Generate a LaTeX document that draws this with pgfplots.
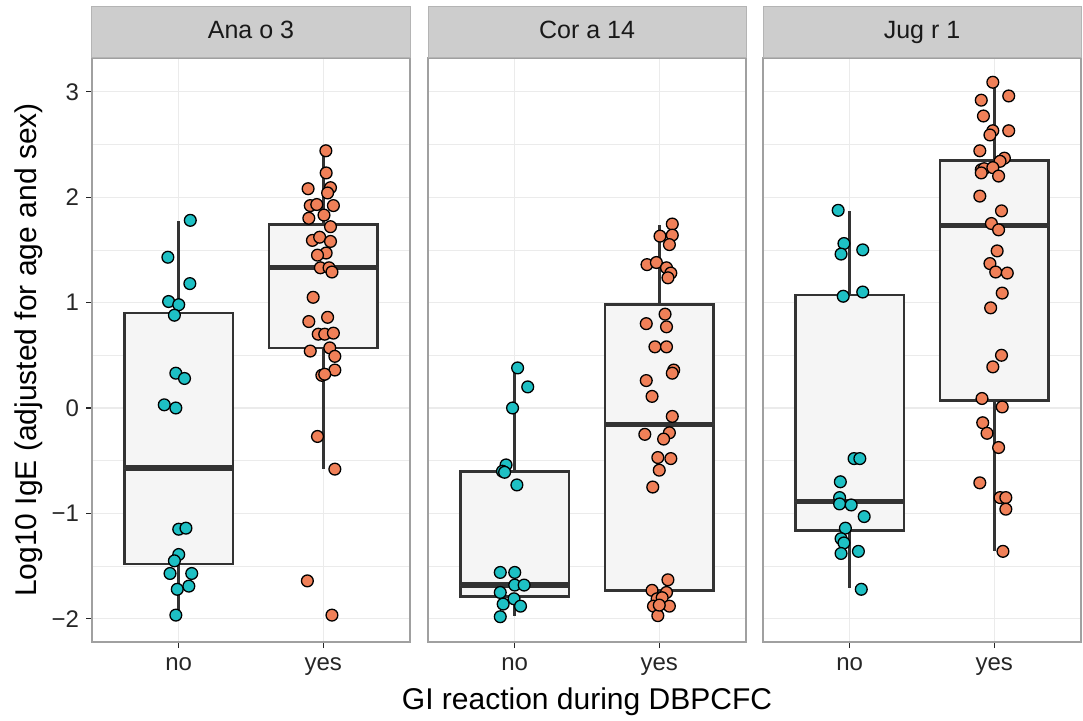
\documentclass[border=0pt]{standalone}
\usepackage{fontspec}
\setmainfont{Liberation Sans}
\usepackage{pgfplots}
\pgfplotsset{compat=1.18}
\usepgfplotslibrary{statistics}

\definecolor{tealpt}{RGB}{30,192,196}
\definecolor{orangept}{RGB}{240,128,88}
\definecolor{gridgrey}{RGB}{235,235,235}
\definecolor{bordergrey}{RGB}{160,160,160}
\definecolor{stripgrey}{RGB}{205,205,205}
\definecolor{stripborder}{RGB}{180,180,180}
\definecolor{boxfill}{RGB}{245,245,245}
\definecolor{boxline}{RGB}{51,51,51}
\definecolor{labgrey}{RGB}{38,38,38}

\pgfplotsset{
  boxplot/draw direction=y,
  boxplot/whisker extend=0,
  boxplot/box extend=0.75,
  boxplot/every median/.style={line width=2.6pt},
  facet/.style={
    scale only axis, width=159pt, height=292pt,
    anchor=south west, clip=false,
    xmin=0.4, xmax=2.6, ymin=-2.22, ymax=3.32,
    xtick={1,2}, xticklabels={no,yes},
    ytick={-2,-1,0,1,2,3},
    minor ytick={-1.5,-0.5,0.5,1.5,2.5},
    grid=both,
    major grid style={gridgrey, line width=0.6pt},
    minor grid style={gridgrey, line width=0.35pt},
    axis line style={bordergrey, line width=0.9pt},
    tick align=outside, major tick length=3pt, minor tick length=0pt,
    tick style={labgrey, line width=0.6pt},
    xtick pos=bottom, ytick pos=left,
    tick label style={font=\fontsize{12}{14}\selectfont, text=labgrey},
    xticklabel style={yshift=-1.5pt},
  },
  box/.style={draw=boxline, fill=boxfill, line width=1.3pt},
  nopts/.style={only marks, mark=*, mark size=2.95pt,
    mark options={fill=tealpt, draw=black, line width=0.65pt}},
  yespts/.style={only marks, mark=*, mark size=2.95pt,
    mark options={fill=orangept, draw=black, line width=0.65pt}},
}
\newcommand{\strip}[1]{%
  \node[fill=stripgrey, draw=stripborder, line width=0.5pt, anchor=south,
    minimum width=159pt, minimum height=25.5pt, inner sep=0pt,
    text height=9pt, text depth=2.5pt, text=black!90,
    font=\fontsize{12.5}{14}\selectfont] at (rel axis cs:0.5,1) {#1};}

\begin{document}
\begin{tikzpicture}
\path[use as bounding box] (0,0) rectangle (541.5pt,360pt);

% Ana o 3
\begin{axis}[facet, at={(46pt,39pt)},
  yticklabels={−2,−1,0,1,2,3},
  ylabel={Log10 IgE (adjusted for age and sex)},
  ylabel style={at={(axis description cs:-0.173,0.5)}, anchor=base,
    font=\fontsize{15}{18}\selectfont, text=black}]
\addplot[box, boxplot prepared={draw position=1, lower whisker=-1.965,
  lower quartile=-1.48, median=-0.57, upper quartile=0.90, upper whisker=1.77}]
  coordinates {};
\addplot[box, boxplot prepared={draw position=2, lower whisker=-0.58,
  lower quartile=0.57, median=1.33, upper quartile=1.74, upper whisker=2.44}]
  coordinates {};
\addplot[nopts] coordinates {
  (1.08,1.78) (0.925,1.43) (1.077,1.18) (0.93,1.01) (1.0,0.98) (0.97,0.88)
  (0.98,0.33) (1.04,0.28) (0.90,0.03) (0.98,0.00) (1.0,-1.15) (1.05,-1.14)
  (1.0,-1.39) (0.97,-1.45) (0.94,-1.57) (1.09,-1.57) (0.99,-1.72) (1.07,-1.69)
  (0.98,-1.965)};
\addplot[yespts] coordinates {
  (2.018,2.44) (2.02,2.23) (1.895,2.08) (2.05,2.09) (2.03,2.04) (1.91,1.92)
  (1.955,1.93) (2.07,1.92) (1.90,1.80) (2.005,1.83) (2.05,1.72) (1.925,1.59)
  (1.975,1.62) (2.05,1.58) (2.02,1.47) (1.96,1.45) (1.98,1.33) (2.04,1.33)
  (2.06,1.29) (1.93,1.05) (2.03,0.86) (1.90,0.82) (1.965,0.70) (2.01,0.70)
  (2.07,0.71) (2.045,0.57) (1.91,0.54) (2.08,0.49) (2.08,0.36) (1.99,0.31)
  (2.01,0.32) (1.96,-0.27) (2.08,-0.58) (1.89,-1.64) (2.06,-1.965)};
\strip{Ana o 3}
\end{axis}

% Cor a 14
\begin{axis}[facet, at={(214pt,39pt)},
  yticklabels={}, ytick style={draw=none},
  xlabel={GI reaction during DBPCFC},
  xlabel style={at={(axis description cs:0.5,-0.1164)}, anchor=base,
    font=\fontsize{15}{18}\selectfont, text=black}]
\addplot[box, boxplot prepared={draw position=1, lower whisker=-1.97,
  lower quartile=-1.79, median=-1.68, upper quartile=-0.60, upper whisker=0.38}]
  coordinates {};
\addplot[box, boxplot prepared={draw position=2, lower whisker=-1.97,
  lower quartile=-1.73, median=-0.16, upper quartile=0.98, upper whisker=1.74}]
  coordinates {};
\addplot[nopts] coordinates {
  (1.02,0.38) (1.09,0.20) (0.985,0.00) (0.94,-0.54) (0.915,-0.60) (0.93,-0.61)
  (1.015,-0.73) (0.90,-1.56) (1.0,-1.56) (1.0,-1.68) (1.065,-1.68) (0.90,-1.75)
  (0.92,-1.86) (0.995,-1.81) (1.04,-1.88) (0.90,-1.98)};
\addplot[yespts] coordinates {
  (2.09,1.745) (2.005,1.63) (2.09,1.64) (2.07,1.55) (1.915,1.36) (1.98,1.38)
  (2.05,1.33) (2.08,1.28) (2.06,1.235) (2.04,0.89) (1.91,0.80) (2.05,0.77)
  (1.97,0.58) (2.05,0.58) (2.10,0.36) (2.09,0.33) (1.91,0.26) (1.95,0.11)
  (2.09,-0.08) (2.07,-0.235) (1.90,-0.25) (2.03,-0.295) (1.99,-0.47) (2.08,-0.48)
  (2.0,-0.59) (1.955,-0.75) (2.06,-1.63) (1.95,-1.73) (2.05,-1.75) (1.985,-1.81)
  (2.02,-1.80) (1.96,-1.88) (2.07,-1.88) (1.99,-1.97) (2.0,-1.87)};
\strip{Cor a 14}
\end{axis}

% Jug r 1
\begin{axis}[facet, at={(381.5pt,39pt)},
  yticklabels={}, ytick style={draw=none}]
\addplot[box, boxplot prepared={draw position=1, lower whisker=-1.71,
  lower quartile=-1.16, median=-0.885, upper quartile=1.07, upper whisker=1.87}]
  coordinates {};
\addplot[box, boxplot prepared={draw position=2, lower whisker=-1.36,
  lower quartile=0.07, median=1.73, upper quartile=2.35, upper whisker=3.08}]
  coordinates {};
\addplot[nopts] coordinates {
  (0.92,1.875) (0.96,1.56) (0.94,1.46) (1.09,1.50) (0.955,1.06) (1.09,1.10)
  (1.03,-0.48) (1.07,-0.48) (0.935,-0.70) (0.93,-0.85) (0.93,-0.91) (1.01,-0.92)
  (1.10,-1.03) (0.97,-1.14) (0.94,-1.24) (0.96,-1.28) (0.94,-1.38) (1.06,-1.36)
  (1.08,-1.72)};
\addplot[yespts] coordinates {
  (1.99,3.09) (2.10,2.96) (1.91,2.92) (1.925,2.77) (1.99,2.63) (2.10,2.63)
  (1.97,2.59) (1.90,2.44) (2.07,2.37) (2.04,2.34) (1.91,2.26) (1.93,2.27)
  (1.99,2.28) (1.91,2.23) (2.03,2.20) (1.90,2.01) (2.05,1.87) (1.98,1.75)
  (2.03,1.69) (2.02,1.49) (1.97,1.37) (2.01,1.29) (2.09,1.28) (2.055,1.09)
  (1.975,0.95) (2.05,0.50) (1.99,0.39) (1.915,0.09) (2.055,0.01) (1.92,-0.14)
  (1.95,-0.24) (2.03,-0.375) (1.90,-0.71) (2.04,-0.85) (2.08,-0.85) (2.08,-0.96)
  (2.06,-1.36)};
\strip{Jug r 1}
\end{axis}
\end{tikzpicture}
\end{document}
